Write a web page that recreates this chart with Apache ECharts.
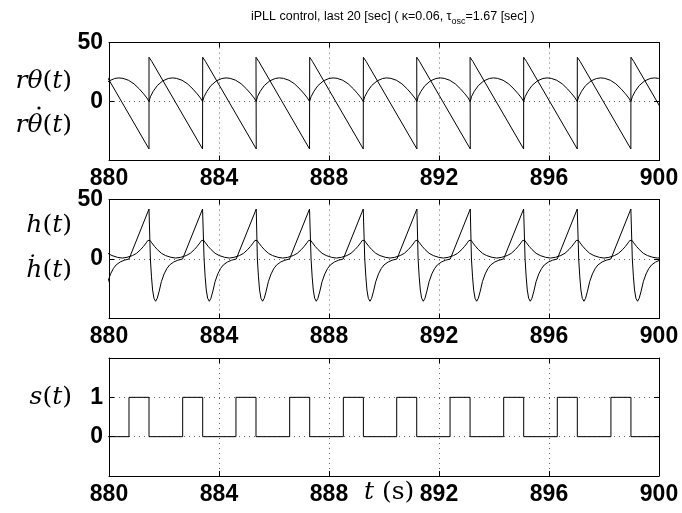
<!DOCTYPE html>
<html>
<head>
<meta charset="utf-8">
<script src="https://cdn.jsdelivr.net/npm/echarts@6/dist/echarts.min.js"></script>
<style>
html, body { margin: 0; padding: 0; background: #fff; }
#chart { width: 682px; height: 513px; }
</style>
</head>
<body>
<div id="chart"></div>
<script>
// jump instants (sec), one per oscillation
const jumpTimes = [879.508, 881.455, 883.407, 885.345, 887.298, 889.25, 891.19, 893.13, 895.08, 897.03, 898.98, 900.93]
const xTicks = [880, 884, 888, 892, 896, 900]

// one period of every curve, as offsets (sec) from the jump instant
const sawOffsets = [0, 0.1, 1.947]
const sawValues = [37.5, 34, -40.2]
const arcOffsets = [0, 0.05, 0.15, 0.3, 0.5, 0.7, 0.85, 1.0, 1.2, 1.4, 1.6, 1.75, 1.87, 1.947]
const arcValues = [0, 4, 8.5, 13.5, 17.5, 19.5, 20, 19.6, 18, 15, 10.5, 6.5, 3, 0]
const hOffsets = [0, 0.05, 0.09, 0.13, 0.18, 0.24, 0.3, 0.37, 0.45, 0.55, 0.65, 0.75, 0.9, 1.05, 1.219, 1.947]
const hValues = [42, 0, -15, -26, -33, -35.5, -33, -27, -19, -12.5, -8, -5, -2.5, -1, 0, 42]
const bumpOffsets = [-0.97, -0.8, -0.6, -0.45, -0.3, -0.2, -0.1, -0.04, 0, 0.04, 0.1, 0.2, 0.3, 0.45, 0.6, 0.8, 0.97]
const bumpValues = [0.8, 1.4, 2.9, 4.8, 8, 10.6, 13.6, 15.6, 16.9, 15.6, 13.6, 10.6, 8, 4.8, 2.9, 1.4, 0.8]
const sOffsets = [-0.728, -0.728, 0, 0]
const sValues = [0, 1, 1, 0]

function build(offsets, values) {
  const out = []
  jumpTimes.forEach(tj => {
    offsets.forEach((o, i) => out.push([+(tj + o).toFixed(3), values[i]]))
  })
  return out
}

const sans = "'Liberation Sans', Arial, sans-serif"
const serif = "'DejaVu Serif', serif"
const tickFont = { fontSize: 23, fontWeight: 'bold', color: '#000', fontFamily: sans }
const grids = [
  { left: 109, width: 550, top: 42.5, height: 118 },
  { left: 109, width: 550, top: 199.5, height: 119 },
  { left: 109, width: 550, top: 358, height: 118 }
]
const yRanges = [
  { min: -50, max: 50, interval: 50, show: [0, 50] },
  { min: -50, max: 50, interval: 50, show: [0, 50] },
  { min: -1, max: 2, interval: 1, show: [0, 1] }
]

const boxLine = { show: true, onZero: false, lineStyle: { color: '#000', width: 1 } }
const dotted = { show: true, lineStyle: { color: '#666', width: 1, type: [1, 4] } }
const inTick = { inside: true, length: 5, lineStyle: { color: '#000' } }

let xAxis = [], yAxis = []
grids.forEach((g, i) => {
  xAxis.push({
    type: 'value', gridIndex: i, min: 880, max: 900, interval: 4, position: 'bottom',
    axisLine: boxLine, axisTick: inTick,
    axisLabel: Object.assign({ margin: 7 }, tickFont), splitLine: dotted
  })
  xAxis.push({
    type: 'value', gridIndex: i, min: 880, max: 900, interval: 4, position: 'top',
    axisLine: boxLine, axisTick: inTick, axisLabel: { show: false }, splitLine: { show: false }
  })
  const r = yRanges[i]
  yAxis.push({
    type: 'value', gridIndex: i, min: r.min, max: r.max, interval: r.interval, position: 'left',
    axisLine: boxLine, axisTick: inTick,
    axisLabel: Object.assign({ margin: 6, formatter: v => r.show.includes(v) ? String(v) : '' }, tickFont),
    splitLine: dotted
  })
  yAxis.push({
    type: 'value', gridIndex: i, min: r.min, max: r.max, interval: r.interval, position: 'right',
    axisLine: boxLine, axisTick: inTick, axisLabel: { show: false }, splitLine: { show: false }
  })
})

function line(data, i) {
  return {
    type: 'line', data, xAxisIndex: i * 2, yAxisIndex: i * 2, showSymbol: false, symbol: 'none',
    lineStyle: { color: '#000', width: 1 }, clip: true, animation: false
  }
}

const mathRich = {
  i: { fontFamily: serif, fontStyle: 'italic', fontSize: 25, color: '#000' },
  n: { fontFamily: serif, fontSize: 25, color: '#000' }
}
function label(text, x, y, align) {
  return { type: 'text', x, y, style: { text, rich: mathRich, align: align || 'right', verticalAlign: 'middle' } }
}

const chart = echarts.init(document.getElementById('chart'))
chart.setOption({
  animation: false,
  backgroundColor: '#fff',
  title: {
    text: '{a|iPLL control, last 20 [sec] ( κ=0.06, τ}{s|osc}{a|=1.67 [sec] )}',
    left: 246, top: 4,
    textStyle: {
      fontWeight: 'normal',
      rich: {
        a: { fontSize: 12.5, fontWeight: 'normal', fontFamily: sans, color: '#000', lineHeight: 16 },
        s: { fontSize: 9, fontWeight: 'normal', fontFamily: sans, color: '#000', lineHeight: 16, padding: [9, 0, 0, 0] }
      }
    }
  },
  grid: grids,
  xAxis, yAxis,
  series: [
    line(build(sawOffsets, sawValues), 0),
    line(build(arcOffsets, arcValues), 0),
    line(build(hOffsets, hValues), 1),
    line(build(bumpOffsets, bumpValues), 1),
    line(build(sOffsets, sValues), 2)
  ],
  graphic: [
    label('{i|rθ}{n|(}{i|t}{n|)}', 72, 81),
    label('{i|rθ}{n|(}{i|t}{n|)}', 72, 125),
    { type: 'circle', shape: { cx: 39, cy: 108, r: 1.6 }, style: { fill: '#000' } },
    label('{i|h}{n|(}{i|t}{n|)}', 72, 225),
    label('{i|ḣ}{n|(}{i|t}{n|)}', 72, 270),
    label('{i|s}{n|(}{i|t}{n|)}', 72, 397),
    label('{i|t}{n| (s)}', 364, 492, 'left')
  ]
})
</script>
</body>
</html>
